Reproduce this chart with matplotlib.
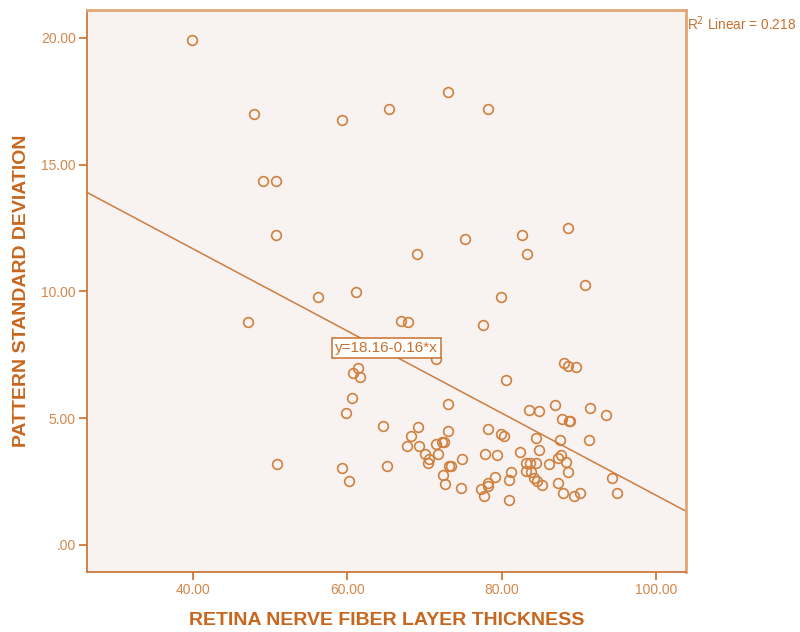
import matplotlib
matplotlib.use("Agg")
import matplotlib.pyplot as plt

# valeurs (RNFL thickness, PSD)
rnfl = [
    39.9, 47.9, 59.3, 65.4, 49.1, 50.75, 50.8, 56.2, 61.1,
    73.1, 78.2, 75.3, 82.7, 88.6, 69.1, 83.3, 90.8, 79.9,
    47.1, 66.9, 67.9, 71.5, 61.4, 60.7, 61.6, 60.6, 59.9, 64.6,
    69.2, 68.2, 67.7, 69.3, 71.5, 72.3, 72.5, 70.1, 71.7, 70.6, 70.4,
    73.0, 73.0, 50.9, 59.3, 65.1, 60.2, 72.4, 72.7, 73.2,
    77.6, 88.1, 88.6, 89.7, 80.6, 83.5, 84.9, 86.9, 91.4, 93.5,
    87.8, 88.7, 88.9, 78.3, 79.9, 80.3, 84.4, 87.6, 91.3, 84.9,
    77.9, 79.4, 82.4, 74.9, 73.4, 87.7, 87.3, 88.4, 86.2,
    83.2, 83.7, 84.4, 88.6, 83.2, 83.8, 81.2, 79.2, 81.0,
    84.2, 84.6, 85.3, 87.3, 94.3, 74.7, 77.3, 78.2, 78.3,
    77.7, 80.9, 88.0, 89.4, 90.2, 95.0,
]
psd = [
    19.93, 16.98, 16.75, 17.2, 14.37, 14.37, 12.21, 9.76, 9.96,
    17.86, 17.2, 12.08, 12.21, 12.49, 11.49, 11.49, 10.24, 9.76,
    8.78, 8.85, 8.78, 7.33, 6.97, 6.80, 6.64, 5.80, 5.20, 4.69,
    4.66, 4.28, 3.92, 3.92, 3.99, 4.06, 4.05, 3.57, 3.60, 3.38, 3.22,
    5.55, 4.50, 3.19, 3.04, 3.11, 2.51, 2.74, 2.41, 3.12,
    8.68, 7.18, 7.07, 7.00, 6.49, 5.33, 5.29, 5.50, 5.41, 5.12,
    4.95, 4.88, 4.87, 4.59, 4.37, 4.28, 4.21, 4.12, 4.13, 3.76,
    3.59, 3.56, 3.68, 3.39, 3.13, 3.54, 3.43, 3.26, 3.19,
    3.22, 3.22, 3.25, 2.87, 2.93, 2.89, 2.88, 2.67, 2.57,
    2.63, 2.51, 2.37, 2.45, 2.62, 2.26, 2.22, 2.43, 2.34,
    1.91, 1.78, 2.04, 1.91, 2.04, 2.03,
]

intercept = 18.16
slope = -0.162
r2 = 0.218

x_ticks = [40, 60, 80, 100]
y_ticks = [0, 5, 10, 15, 20]

orange = "#C8702C"
light_orange = "#E2A676"
fond = "#F8F3F0"

plt.rcParams["font.family"] = ["Liberation Sans", "DejaVu Sans"]

fig = plt.figure(figsize=(8, 6.32), dpi=100)
ax = fig.add_axes([0.10875, 0.0949, 0.74875, 0.8893])
ax.set_facecolor(fond)

xmin, xmax = 26.27, 103.9
ax.set_xlim(xmin, xmax)
ax.set_ylim(-1.07, 21.1)

ax.plot(rnfl, psd, "o", ms=7, mfc="none", mec="#D0803F", mew=1.2)
ax.plot([xmin, xmax], [intercept + slope * xmin, intercept + slope * xmax],
        color="#CD7D3F", lw=1.1)

ax.text(65.1, 7.77, "y=18.16-0.16*x", fontsize=11, color=orange,
        ha="center", va="center",
        bbox=dict(boxstyle="square,pad=0.2", fc="white", ec=orange, lw=1.1))

ax.set_xticks(x_ticks)
ax.set_xticklabels(["%.2f" % v for v in x_ticks])
ax.set_yticks(y_ticks)
ax.set_yticklabels([".00"] + ["%.2f" % v for v in y_ticks[1:]])
ax.tick_params(direction="out", length=6, width=1.2, color=orange,
               labelcolor="#D4874A", labelsize=10, pad=2)

for s in ["left", "bottom"]:
    ax.spines[s].set_color(orange)
    ax.spines[s].set_linewidth(1.2)
for s in ["top", "right"]:
    ax.spines[s].set_color(light_orange)
    ax.spines[s].set_linewidth(2)

ax.set_xlabel("RETINA NERVE FIBER LAYER THICKNESS", fontsize=14,
              fontweight="bold", color="#C8661E", labelpad=11)
ax.set_ylabel("PATTERN STANDARD DEVIATION", fontsize=14,
              fontweight="bold", color="#C8661E", labelpad=8)

fig.text(0.859, 0.963, "R$^2$ Linear = 0.218", fontsize=9.8, color=orange,
         ha="left", va="center")

fig.savefig("out.png", dpi=100, facecolor="white")
